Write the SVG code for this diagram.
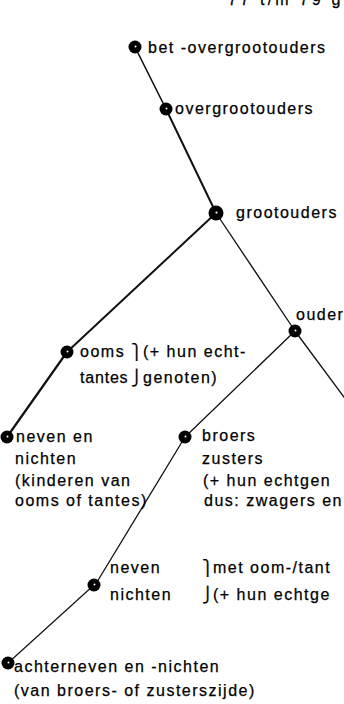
<svg xmlns="http://www.w3.org/2000/svg" width="344" height="704" viewBox="0 0 344 704">
<style>
text{font-family:"Liberation Sans",Arial,sans-serif;font-size:16px;letter-spacing:1.5px;fill:#000;stroke:#000;stroke-width:0.25}
.br{font-family:"DejaVu Sans",sans-serif;letter-spacing:0;font-size:15px}
.ln{stroke:#111;fill:none;stroke-linecap:round}
.dot{fill:#000}
.hole{fill:#fff}
</style>
<defs>
<g id="n"><circle class="dot" r="6.5"/><circle class="hole" cx="0.5" cy="-0.5" r="1"/></g>
</defs>
<rect width="344" height="704" fill="#fff"/>
<g id="fragment"><text x="228" y="5" textLength="114" lengthAdjust="spacing">77 t/m 79 g</text></g>
<g id="connectors">
<path class="ln" stroke-width="1.6" d="M135 47L166 109"/>
<path class="ln" stroke-width="2" d="M166 109L216 213"/>
<path class="ln" stroke-width="2" d="M216 213L67 352"/>
<path class="ln" stroke-width="2.2" d="M67 352L7 437"/>
<path class="ln" stroke-width="1.3" d="M216 213L295 331"/>
<path class="ln" stroke-width="1.3" d="M295 331L352 408"/>
<path class="ln" stroke-width="1.3" d="M295 331L185 437"/>
<path class="ln" stroke-width="1.3" d="M185 437L97 582"/>
<path class="ln" stroke-width="1.2" d="M94 585L8 663"/>
</g>
<g id="bet-overgrootouders"><use href="#n" x="135" y="47"/><text x="148" y="53">bet -overgrootouders</text></g>
<g id="overgrootouders"><use href="#n" x="166" y="109"/><text x="175" y="114">overgrootouders</text></g>
<g id="grootouders"><circle class="dot" cx="216" cy="213" r="7.5"/><circle class="hole" cx="216.5" cy="212.5" r="1.1"/><text x="236" y="218">grootouders</text></g>
<g id="ouders"><use href="#n" x="295" y="331"/><text x="296" y="320">ouder</text></g>
<g id="ooms-tantes"><use href="#n" x="67" y="352"/>
<text x="80" y="357">ooms</text><text class="br" x="131" y="357">⎫</text><text x="143" y="357">(+ hun echt-</text>
<text x="80" y="383" style="letter-spacing:0.8px">tantes</text><text class="br" x="131" y="383">⎭</text><text x="143" y="383">genoten)</text></g>
<g id="neven-nichten-1"><use href="#n" x="7" y="437"/>
<text x="16" y="442">neven en</text><text x="15" y="464">nichten</text><text x="15" y="486">(kinderen van</text><text x="15" y="506">ooms of tantes)</text></g>
<g id="broers-zusters"><use href="#n" x="185" y="437"/>
<text x="202" y="441">broers</text><text x="202" y="464">zusters</text><text x="203" y="486">(+ hun echtgen</text><text x="204" y="506">dus: zwagers en</text></g>
<g id="neven-nichten-2"><use href="#n" x="94" y="585"/>
<text x="110" y="573">neven</text><text x="110" y="600">nichten</text>
<text class="br" x="202" y="573">⎫</text><text x="213" y="573">met oom-/tant</text>
<text class="br" x="202" y="600">⎭</text><text x="213" y="600">(+ hun echtge</text></g>
<g id="achterneven"><use href="#n" x="8" y="663"/>
<text x="14" y="672">achterneven en -nichten</text><text x="14" y="696">(van broers- of zusterszijde)</text></g>
</svg>
